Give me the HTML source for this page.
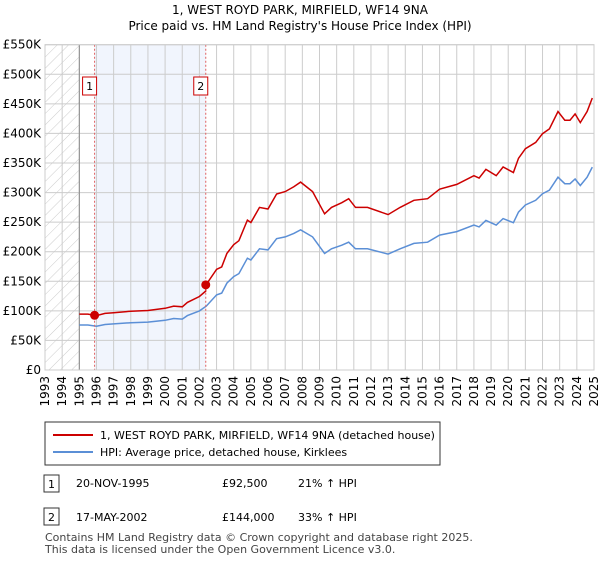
<!DOCTYPE html>
<html><head><meta charset="utf-8"><style>
body{margin:0;background:#fff;font-family:"Liberation Sans","DejaVu Sans",sans-serif;}
svg text{font-family:"DejaVu Sans","Liberation Sans",sans-serif;}
</style></head><body>
<svg id="c" width="600" height="560" xmlns="http://www.w3.org/2000/svg">
<defs><pattern id="hatch" width="8" height="8" patternUnits="userSpaceOnUse" patternTransform="rotate(45)"><line x1="0" y1="0" x2="0" y2="8" stroke="#ccc" stroke-width="1"/></pattern></defs>
<text x="300" y="14" text-anchor="middle" font-size="12">1, WEST ROYD PARK, MIRFIELD, WF14 9NA</text>
<text x="300" y="30" text-anchor="middle" font-size="12">Price paid vs. HM Land Registry's House Price Index (HPI)</text>
<g id="plot"></g>
<g>
<rect x="45" y="422" width="395" height="43" fill="#fff" stroke="#333"/>
<line x1="53" y1="435" x2="93" y2="435" stroke="#cc0000" stroke-width="2"/>
<text x="100" y="439" font-size="11">1, WEST ROYD PARK, MIRFIELD, WF14 9NA (detached house)</text>
<line x1="53" y1="452" x2="93" y2="452" stroke="#5b8fd6" stroke-width="2"/>
<text x="100" y="456" font-size="11">HPI: Average price, detached house, Kirklees</text>
</g>
<g>
<rect x="44" y="475" width="15" height="17" fill="#fff" stroke="#333"/><text x="51.5" y="488" font-size="11" text-anchor="middle">1</text>
<text x="76" y="487" font-size="11">20-NOV-1995</text><text x="222" y="487" font-size="11">£92,500</text><text x="298" y="487" font-size="11">21% ↑ HPI</text>
<rect x="44" y="508" width="15" height="17" fill="#fff" stroke="#333"/><text x="51.5" y="521" font-size="11" text-anchor="middle">2</text>
<text x="76" y="521" font-size="11">17-MAY-2002</text><text x="222" y="521" font-size="11">£144,000</text><text x="298" y="521" font-size="11">33% ↑ HPI</text>
</g>
<text x="45" y="541" font-size="11" fill="#444">Contains HM Land Registry data © Crown copyright and database right 2025.</text>
<text x="45" y="553" font-size="11" fill="#444">This data is licensed under the Open Government Licence v3.0.</text>
</svg>
<script>
const hpiYears=[1995.0,1995.5,1996.0,1996.5,1997,1998,1999,2000,2000.5,2001,2001.3,2002,2002.4,2003,2003.3,2003.6,2004,2004.3,2004.8,2005,2005.5,2006,2006.5,2007,2007.5,2007.9,2008.6,2009.3,2009.7,2010.3,2010.7,2011.1,2011.8,2013.0,2013.7,2014.5,2015.3,2016.0,2017.0,2018.0,2018.3,2018.7,2019.3,2019.7,2020.3,2020.6,2021.0,2021.6,2022.0,2022.4,2022.9,2023.3,2023.6,2023.9,2024.2,2024.6,2024.9];
const hpiValues=[76,76,74,77,78,80,81,84,87,86,92,100,108,127,130,147,158,163,189,186,205,203,222,225,231,237,225,197,205,211,216,205,205,196,205,214,216,228,234,245,242,253,245,256,249,267,279,287,298,304,326,315,315,323,312,326,343];
const saleYears=[1995.89,2002.37];
const salePrices=[92.5,144];
const saleLabels=["1","2"];
const yTicks=[0,50,100,150,200,250,300,350,400,450,500,550];
const yTickLabels=["£0","£50K","£100K","£150K","£200K","£250K","£300K","£350K","£400K","£450K","£500K","£550K"];
const xTicks=[];for(let y=1993;y<=2025;y++)xTicks.push(y);
const X0=45,X1=594,Y0=370,Y1=44.7;
const sx=y=>X0+(y-1993)/32*(X1-X0);
const sy=v=>Y0-v/550*(Y0-Y1);
const NS="http://www.w3.org/2000/svg";
const g=document.getElementById('plot');
function mk(t,a){const e=document.createElementNS(NS,t);for(const k in a)e.setAttribute(k,a[k]);g.appendChild(e);return e;}
function hpiAt(t){for(let i=0;i<hpiYears.length-1;i++){if(t<=hpiYears[i+1]){const f=(t-hpiYears[i])/(hpiYears[i+1]-hpiYears[i]);return hpiValues[i]+f*(hpiValues[i+1]-hpiValues[i]);}}return hpiValues[hpiValues.length-1];}
let r=mk('rect',{x:sx(1993),y:Y1,width:sx(1995)-sx(1993),height:Y0-Y1,fill:'url(#hatch)'});


r=mk('rect',{x:sx(saleYears[0]),y:Y1,width:sx(saleYears[1])-sx(saleYears[0]),height:Y0-Y1,fill:'#eef3fc',opacity:0.8});


yTicks.forEach((v,i)=>{
 const l=mk('line',{x1:X0,x2:X1,y1:sy(v),y2:sy(v),stroke:'#ccc'});
 
 
 const t=mk('text',{x:X0-4,y:sy(v)+4,'text-anchor':'end','font-size':12});
 t.textContent=yTickLabels[i];
 
 
});
xTicks.forEach(y=>{
 const l=mk('line',{x1:sx(y),x2:sx(y),y1:Y1,y2:Y0,stroke:'#ccc'});
 
 
 const t=mk('text',{x:0,y:0,'font-size':12,'text-anchor':'end',transform:`translate(${sx(y)+4},${Y0+6}) rotate(-90)`});
 t.textContent=y;
 
 
});
let ax=mk('line',{x1:sx(1995),x2:sx(1995),y1:Y1,y2:Y0,stroke:'#888'});


// hpi line
let pts=hpiYears.map((y,i)=>sx(y).toFixed(1)+','+sy(hpiValues[i]).toFixed(1)).join(' ');
let hl=mk('polyline',{points:pts,fill:'none',stroke:'#5b8fd6','stroke-width':1.5});


// property line: hpi scaled by last sale ratio
const r1=salePrices[0]/hpiAt(saleYears[0]),r2=salePrices[1]/hpiAt(saleYears[1]);
let rp=[];
hpiYears.forEach((y,i)=>{const k=y<saleYears[1]?r1:r2;rp.push([y,hpiValues[i]*k]);});
rp.push([saleYears[1],salePrices[1]]);rp.push([saleYears[1]-0.001,hpiAt(saleYears[1])*r1]);
rp.sort((a,b)=>a[0]-b[0]);
let pl=mk('polyline',{points:rp.map(p=>sx(p[0]).toFixed(1)+','+sy(p[1]).toFixed(1)).join(' '),fill:'none',stroke:'#cc0000','stroke-width':1.5});


saleYears.forEach((y,i)=>{
 const l=mk('line',{x1:sx(y),x2:sx(y),y1:Y1,y2:Y0,stroke:'#e06060','stroke-dasharray':'2,2'});
 
 
 const b=mk('rect',{x:sx(y)-12,y:77,width:14,height:18,fill:'#fff',stroke:'#cc0000'});
 
 
 const t=mk('text',{x:sx(y)-5,y:90,'font-size':11,'text-anchor':'middle'});
 t.textContent=saleLabels[i];
 
 
 const c=mk('circle',{cx:sx(y),cy:sy(salePrices[i]),r:4.5,fill:'#cc0000'});
 
 
});
let bd=mk('rect',{x:X0,y:Y1,width:X1-X0,height:Y0-Y1,fill:'none',stroke:'#ccc'});


</script>
</body></html>
